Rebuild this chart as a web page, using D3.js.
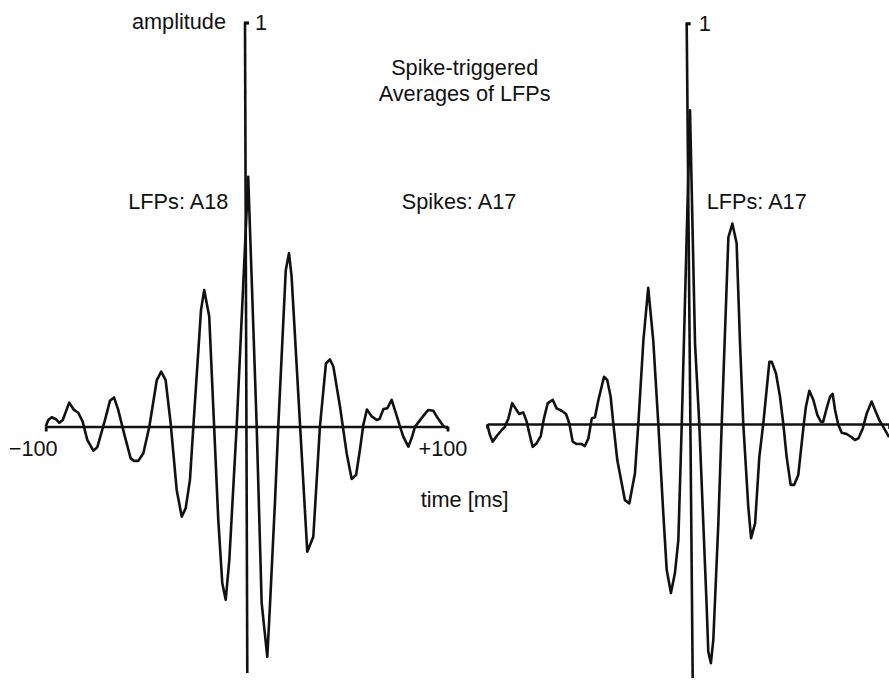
<!DOCTYPE html>
<html>
<head>
<meta charset="utf-8">
<script src="https://cdn.jsdelivr.net/npm/d3@7"></script>
<style>
  html, body { margin: 0; padding: 0; background: #fff; }
  svg { display: block; }
  text { font-family: "Liberation Sans", Arial, Helvetica, sans-serif; fill: #111; }
</style>
</head>
<body>
<svg id="chart" width="889" height="680"></svg>
<script>
// ---------------- DATA ----------------
const timeDomain = [-100, 100];
const xTickValues = [-100, 100];
const xTickLabels = ["\u2212100", "+100"];
const yTickValue = 1;
const yTickLabel = "1";

const titleLines = ["Spike-triggered", "Averages of LFPs"];
const spikeLabel = "Spikes: A17";
const panelLabels = ["LFPs: A18", "LFPs: A17"];
const yAxisTitle = "amplitude";
const xAxisTitle = "time [ms]";

// Left panel: LFPs A18 (time in ms, normalised amplitude)
const leftTime = [-100, -98.7, -97.0, -94.9, -93.2, -91.5, -88.3, -85.9, -83.8, -81.6,
  -79.3, -76.3, -74.3, -70.5, -68.0, -66.0, -63.9, -61.0, -57.7, -56.0,
  -53.9, -51.4, -48.4, -44.7, -42.5, -40.3, -37.8, -34.8, -32.3, -30.3,
  -28.2, -26.5, -22.7, -21.1, -18.6, -16.2, -14.1, -12.1, -10.4, -8.6,
  -6.6, -4.9, 0.8, 5.0, 7.5, 10.3, 11.6, 14.1, 15.8, 19.5,
  21.1, 22.4, 26.6, 30.2, 33.2, 36.5, 39.5, 41.5, 43.2, 46.5,
  49.8, 52.3, 54.5, 56.4, 58.1, 59.9, 62.3, 64.8, 66.2, 68.1,
  70.0, 72.2, 74.5, 76.4, 78.0, 80.5, 82.2, 83.8, 87.3, 90.4,
  92.9, 95.4, 97.9, 100];
const leftAmp = [0.0, 0.016, 0.023, 0.018, 0.009, 0.016, 0.059, 0.041, 0.034, 0.012,
  -0.033, -0.060, -0.051, 0.016, 0.064, 0.072, 0.041, -0.017, -0.079, -0.085,
  -0.085, -0.066, 0.0, 0.115, 0.136, 0.115, 0.008, -0.157, -0.223, -0.202,
  -0.132, 0.0, 0.288, 0.338, 0.272, 0.004, -0.231, -0.388, -0.429, -0.330,
  -0.149, 0.004, 0.618, 0.004, -0.437, -0.570, -0.446, -0.189, 0.004, 0.387,
  0.429, 0.371, 0.004, -0.310, -0.273, 0.0, 0.156, 0.166, 0.148, 0.049,
  -0.066, -0.130, -0.120, -0.058, 0.004, 0.042, 0.025, 0.016, 0.019, 0.043,
  0.045, 0.066, 0.030, -0.001, -0.025, -0.050, -0.028, -0.001, 0.022, 0.041,
  0.039, 0.019, 0.001, -0.004];

// Right panel: LFPs A17
const rightTime = [-100, -98.7, -97.3, -95.3, -92.8, -91.2, -89.5, -87.6, -85.7, -84.1,
  -82.1, -80.4, -79.1, -77.4, -75.4, -73.4, -71.8, -69.9, -67.4, -65.5,
  -63.0, -60.8, -59.2, -57.5, -55.5, -53.0, -51.4, -49.7, -48.0, -46.4,
  -44.7, -41.9, -40.3, -38.6, -37.3, -35.3, -33.1, -31.5, -29.3, -26.5,
  -24.8, -22.3, -19.9, -17.4, -14.9, -12.4, -10.7, -8.6, -6.6, -4.9,
  -3.2, 0.9, 3.4, 5.5, 9.2, 10.0, 11.3, 12.5, 15.0, 16.7,
  20.0, 22.0, 24.1, 25.8, 27.4, 29.9, 31.3, 33.3, 35.4, 37.4,
  40.4, 41.6, 43.7, 45.7, 47.3, 49.0, 51.0, 52.7, 54.8, 56.5,
  57.6, 58.6, 60.3, 62.3, 64.3, 66.0, 67.2, 68.9, 70.6, 71.9,
  73.1, 74.7, 76.4, 78.9, 81.4, 83.0, 84.7, 86.9, 88.9, 91.3,
  93.0, 95.1, 97.1, 100];
const rightAmp = [-0.002, -0.027, -0.044, -0.030, -0.015, -0.007, 0.014, 0.052, 0.037, 0.025,
  0.029, 0.006, -0.023, -0.057, -0.048, -0.030, 0.014, 0.052, 0.060, 0.039,
  0.033, 0.025, 0.002, -0.044, -0.050, -0.050, -0.055, -0.036, 0.014, 0.017,
  0.060, 0.118, 0.110, 0.068, 0.002, -0.090, -0.148, -0.190, -0.198, -0.123,
  0.002, 0.209, 0.340, 0.209, 0.002, -0.223, -0.364, -0.422, -0.372, -0.289,
  0.002, 0.783, 0.201, 0.002, -0.456, -0.568, -0.597, -0.539, -0.248, 0.002,
  0.466, 0.500, 0.451, 0.201, 0.002, -0.206, -0.285, -0.248, -0.082, 0.002,
  0.155, 0.155, 0.126, 0.068, 0.002, -0.082, -0.152, -0.152, -0.127, -0.048,
  0.002, 0.043, 0.083, 0.060, 0.022, 0.006, 0.006, 0.039, 0.068, 0.075,
  0.035, -0.002, -0.022, -0.025, -0.033, -0.040, -0.036, -0.011, 0.027, 0.056,
  0.035, 0.010, -0.007, -0.033];

// Amplitude axis (spike time marker): from amplitude 1 down to the lowest value
const leftAxisTime = [-0.8, 0.35];
const leftAxisAmp = [1, -0.61];
const rightAxisTime = [-0.75, 2.24];
const rightAxisAmp = [1, -0.634];

// ---------------- LAYOUT ----------------
const layout = [
  { x0: 45.7, x1: 447.5, yZero: 426.5, yOne: 22.5, labelPad: 6, showXLabels: true },
  { x0: 487.3, x1: 889.1, yZero: 424, yOne: 23.3, labelPad: 8, showXLabels: false }
];
const FONT = 21.7;
const STROKE = "#111";

const svg = d3.select("#chart");

const panels = [
  { time: leftTime, amp: leftAmp, axT: leftAxisTime, axA: leftAxisAmp, label: panelLabels[0] },
  { time: rightTime, amp: rightAmp, axT: rightAxisTime, axA: rightAxisAmp, label: panelLabels[1] }
];

panels.forEach((p, i) => {
  const L = layout[i];
  const x = d3.scaleLinear().domain(timeDomain).range([L.x0, L.x1]);
  const y = d3.scaleLinear().domain([0, 1]).range([L.yZero, L.yOne]);
  const g = svg.append("g");

  // horizontal time axis
  const xAxis = d3.axisBottom(x)
    .tickValues(xTickValues)
    .tickSize(5)
    .tickSizeOuter(0)
    .tickFormat((d, k) => L.showXLabels ? xTickLabels[k] : "");
  const gx = g.append("g").attr("transform", `translate(0,${y(0)})`).call(xAxis);
  gx.select(".domain").attr("stroke", STROKE).attr("stroke-width", 2.6);
  gx.selectAll(".tick line").attr("stroke", STROKE).attr("stroke-width", 2.8);
  gx.selectAll(".tick text")
    .attr("font-size", FONT)
    .attr("font-family", "Liberation Sans, Arial, sans-serif")
    .attr("fill", "#111")
    .attr("y", 14.5)
    .attr("dx", (d) => d < 0 ? -13 : -5);

  // amplitude axis (slightly tilted, as drawn)
  const axisPts = p.axT.map((t, k) => [t, p.axA[k]]);
  g.append("path")
    .attr("d", d3.line().x(d => x(d[0])).y(d => y(d[1]))(axisPts))
    .attr("fill", "none")
    .attr("stroke", STROKE)
    .attr("stroke-width", 2.6);

  const yAxis = d3.axisRight(y)
    .tickValues([yTickValue])
    .tickSize(5)
    .tickPadding(L.labelPad)
    .tickFormat(() => yTickLabel);
  const gy = g.append("g").attr("transform", `translate(${x(p.axT[0]) - 1},0)`).call(yAxis);
  gy.select(".domain").remove();
  gy.selectAll(".tick line").attr("stroke", STROKE).attr("stroke-width", 3.2);
  gy.selectAll(".tick text")
    .attr("font-size", FONT)
    .attr("font-family", "Liberation Sans, Arial, sans-serif")
    .attr("fill", "#111");

  // trace
  const pts = p.time.map((t, k) => [t, p.amp[k]]);
  g.append("path")
    .attr("d", d3.line().x(d => x(d[0])).y(d => y(d[1]))(pts))
    .attr("fill", "none")
    .attr("stroke", STROKE)
    .attr("stroke-width", 2.6)
    .attr("stroke-linejoin", "round");
});

// texts
const txt = (s, xx, yy, anchor) => svg.append("text")
  .attr("x", xx).attr("y", yy)
  .attr("font-size", FONT)
  .attr("text-anchor", anchor || "start")
  .text(s);

txt(yAxisTitle, 226, 29, "end");
txt(titleLines[0], 464.7, 75, "middle");
txt(titleLines[1], 464.7, 101, "middle");
txt(panelLabels[0], 128.3, 209.3);
txt(spikeLabel, 459, 209.3, "middle");
txt(panelLabels[1], 706.7, 209.3);
txt(xAxisTitle, 420.7, 506.7);
</script>
</body>
</html>
